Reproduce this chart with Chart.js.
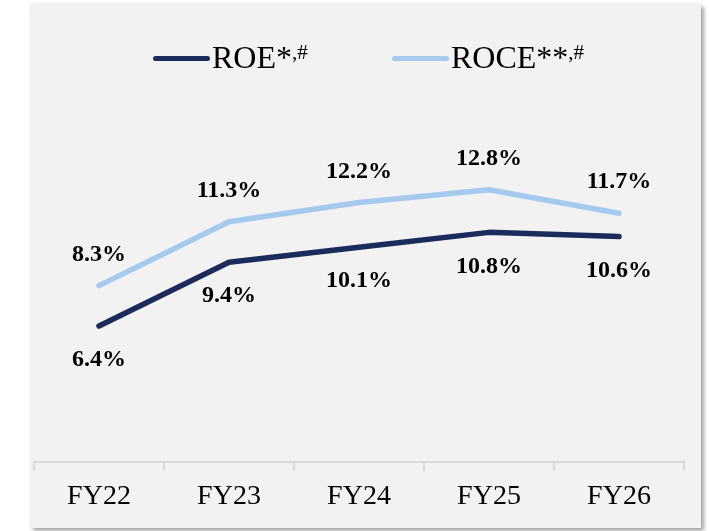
<!DOCTYPE html>
<html lang="en">
<head>
  <meta charset="UTF-8">
  <title>ROE / ROCE</title>
  <style>
    body { margin: 0; background: #fff; font-family: "Liberation Serif", "Times New Roman", serif; }
    #panel {
      position: absolute; left: 30px; top: 4px; width: 671px; height: 524px;
      background: #f2f2f2;
      box-shadow: 3px 3px 4px rgba(0,0,0,0.35), 0 -1px 3px rgba(0,0,0,0.06);
    }
    #grafico { position: absolute; left: 0; top: 0; }
    .item { position: absolute; top: 37px; height: 32px; font-size: 32px; line-height: 32px; color: #000; white-space: nowrap; }
    .item .sw { position: absolute; left: 0; top: 15px; width: 57px; height: 5px; border-radius: 3px; }
    .item .txt { position: absolute; left: 59px; top: 0; }
    .item sup { font-size: 21px; position: relative; top: -5px; vertical-align: top; }
  </style>
</head>
<body>
  <div id="panel">
    <canvas id="grafico" width="671" height="524"></canvas>
    <div class="item" style="left:123px"><span class="sw" style="background:#1b2b5c"></span><span class="txt">ROE*<sup>,#</sup></span></div>
    <div class="item" style="left:362px"><span class="sw" style="background:#a6caee"></span><span class="txt">ROCE**<sup>,#</sup></span></div>
  </div>

  <script src="https://cdn.jsdelivr.net/npm/chart.js"></script>
  <script>
    const etiquetas = ["FY22", "FY23", "FY24", "FY25", "FY26"];
    const roe = [6.4, 9.4, 10.1, 10.8, 10.6];
    const roce = [8.3, 11.3, 12.2, 12.8, 11.7];

    // etiquetas de datos: ROE debajo, ROCE encima
    const etiquetasDatos = {
      id: "etiquetasDatos",
      afterDatasetsDraw(chart) {
        const ctx = chart.ctx;
        ctx.save();
        ctx.font = "bold 24px 'Liberation Serif', serif";
        ctx.fillStyle = "#000";
        ctx.textAlign = "center";
        ctx.textBaseline = "middle";
        chart.data.datasets.forEach((ds, i) => {
          const desplaz = i === 0 ? 34 : -31;
          chart.getDatasetMeta(i).data.forEach((pt, j) => {
            ctx.fillText(ds.data[j].toFixed(1) + "%", pt.x, pt.y + desplaz);
          });
        });
        ctx.restore();
      }
    };

    new Chart(document.querySelector("#grafico"), {
      type: "line",
      data: {
        labels: etiquetas,
        datasets: [
          { label: "ROE", data: roe, borderColor: "#1b2b5c" },
          { label: "ROCE", data: roce, borderColor: "#a6caee" }
        ]
      },
      options: {
        responsive: false,
        animation: false,
        layout: { padding: { left: 4, right: 17, top: 75, bottom: 6 } },
        elements: {
          line: { borderWidth: 5.5, tension: 0, borderCapStyle: "round", borderJoinStyle: "round" },
          point: { radius: 0 }
        },
        plugins: { legend: { display: false }, tooltip: { enabled: false } },
        scales: {
          y: { display: false, min: 0, max: 18 },
          x: {
            offset: true,
            grid: { offset: true, drawOnChartArea: false, color: "#d9d9d9", lineWidth: 2, tickLength: 8 },
            border: { color: "#d9d9d9", width: 2 },
            ticks: { color: "#000", padding: 9, font: { family: "'Liberation Serif', serif", size: 28 } }
          }
        }
      },
      plugins: [etiquetasDatos]
    });
  </script>
</body>
</html>
